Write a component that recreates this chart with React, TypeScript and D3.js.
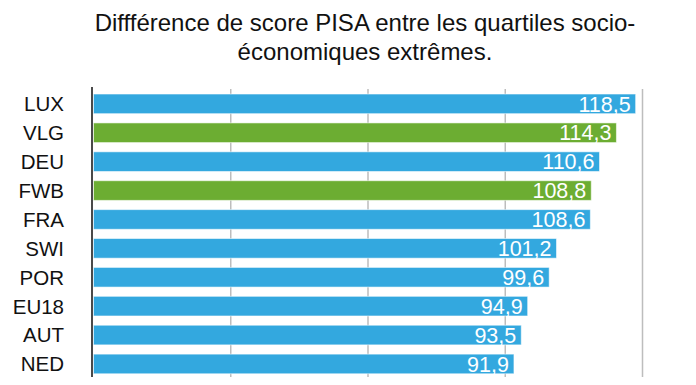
import * as d3 from 'd3';
import React, { useEffect, useRef } from 'react';

const countries = ['LUX', 'VLG', 'DEU', 'FWB', 'FRA', 'SWI', 'POR', 'EU18', 'AUT', 'NED', 'HUN'];
const scores = [118.5, 114.3, 110.6, 108.8, 108.6, 101.2, 99.6, 94.9, 93.5, 91.9, 87.8];
const highlighted = ['VLG', 'FWB'];
const gridTicks = [30, 60, 90, 120];
const titleLines = ['Diffférence de score PISA entre les quartiles socio-', 'économiques extrêmes.'];

const font = 'Helvetica, Arial, "Liberation Sans", sans-serif';

const BarChart = () => {
  const svgRef = useRef(null);

  useEffect(() => {
    const svg = d3.select(svgRef.current);
    svg.selectAll('*').remove();

    const xScale = d3.scaleLinear().domain([0, 120]).range([93.5, 642.5]);
    const yScale = d3
      .scaleBand()
      .domain(countries)
      .range([89.4, 89.4 + 28.9 * countries.length])
      .paddingInner(0.32)
      .paddingOuter(0.16);

    svg
      .append('g')
      .selectAll('text')
      .data(titleLines)
      .enter()
      .append('text')
      .attr('x', 365)
      .attr('y', (d, i) => 31 + i * 29)
      .attr('text-anchor', 'middle')
      .style('font-family', font)
      .style('font-size', '24px')
      .style('fill', '#111')
      .text((d) => d);

    // grid
    svg
      .append('g')
      .selectAll('line')
      .data(gridTicks)
      .enter()
      .append('line')
      .attr('x1', (d) => xScale(d))
      .attr('x2', (d) => xScale(d))
      .attr('y1', 89)
      .attr('y2', 385)
      .style('stroke', '#bdbdbd')
      .style('stroke-width', 1.5);

    svg
      .append('g')
      .selectAll('rect')
      .data(countries)
      .enter()
      .append('rect')
      .attr('x', xScale(0))
      .attr('y', (d) => yScale(d))
      .attr('width', (d, i) => xScale(scores[i]) - xScale(0))
      .attr('height', yScale.bandwidth())
      .style('fill', (d) => (highlighted.includes(d) ? '#6cad32' : '#33a8df'))
      .style('stroke', 'rgba(255,255,255,0.55)')
      .style('stroke-width', 1);

    svg
      .append('g')
      .selectAll('text')
      .data(countries)
      .enter()
      .append('text')
      .attr('x', (d, i) => xScale(scores[i]) - 5)
      .attr('y', (d) => yScale(d) + yScale.bandwidth() / 2)
      .attr('dy', '0.36em')
      .attr('text-anchor', 'end')
      .style('font-family', font)
      .style('font-size', '21.5px')
      .style('fill', '#fff')
      .text((d, i) => scores[i].toFixed(1).replace('.', ','));

    svg
      .append('g')
      .selectAll('text')
      .data(countries)
      .enter()
      .append('text')
      .attr('x', 64)
      .attr('y', (d) => yScale(d) + yScale.bandwidth() / 2)
      .attr('dy', '0.36em')
      .attr('text-anchor', 'end')
      .style('font-family', font)
      .style('font-size', '20.5px')
      .style('fill', '#111')
      .text((d) => d);

    svg
      .append('line')
      .attr('x1', 92)
      .attr('x2', 92)
      .attr('y1', 87)
      .attr('y2', 385)
      .style('stroke', '#4a4a4a')
      .style('stroke-width', 2);
  }, []);

  return <svg ref={svgRef} width={696} height={385} style={{ display: 'block' }} />;
};

export default function App() {
  return (
    <div style={{ margin: -8 }}>
      <BarChart />
    </div>
  );
}
